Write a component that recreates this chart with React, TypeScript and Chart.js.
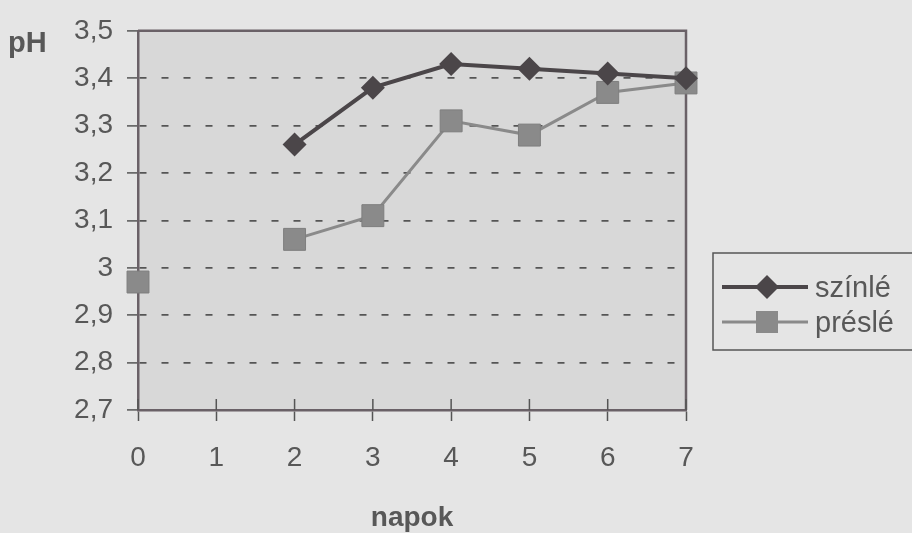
import React, { useEffect, useRef } from 'react';
import { Chart, registerables } from 'chart.js';

Chart.register(...registerables);

// ---- data ----
const days = [0, 1, 2, 3, 4, 5, 6, 7];
const szinle = [null, null, 3.26, 3.38, 3.43, 3.42, 3.41, 3.40];
const presle = [2.97, null, 3.06, 3.11, 3.31, 3.28, 3.37, 3.39];
const seriesNames = ['színlé', 'préslé'];
const yTicks = [2.7, 2.8, 2.9, 3.0, 3.1, 3.2, 3.3, 3.4, 3.5];
const xTitle = 'napok';
const yTitle = 'pH';

// ---- styles ----
const FONT = "'Liberation Sans', Arial, Helvetica, sans-serif";
const PAGE_BG = '#e5e5e5';
const PLOT_BG = '#d8d8d8';
const AXIS = '#6a6167';
const TEXT = '#585858';
const GRID = '#555555';
const C1 = '#4b4649';
const C2 = '#8a8a8a';

const fmt = (v: number) => String(Math.round(v * 10) / 10).replace('.', ',');

const decoPlugin = {
  id: 'deco',
  beforeDraw(chart: any) {
    const { ctx, chartArea: a } = chart;
    ctx.save();
    ctx.fillStyle = PLOT_BG;
    ctx.fillRect(a.left, a.top, a.right - a.left, a.bottom - a.top);
    ctx.restore();
  },
  beforeDatasetsDraw(chart: any) {
    const { ctx, chartArea: a } = chart;
    ctx.save();
    ctx.strokeStyle = AXIS;
    ctx.lineWidth = 2.5;
    ctx.beginPath();
    ctx.moveTo(a.left, a.top);
    ctx.lineTo(a.right, a.top);
    ctx.lineTo(a.right, a.bottom);
    ctx.stroke();
    // inner x tick marks
    const xs = chart.scales.x;
    ctx.lineWidth = 1.5;
    ctx.strokeStyle = GRID;
    ctx.beginPath();
    days.forEach((d) => {
      const px = xs.getPixelForValue(d);
      ctx.moveTo(px, a.bottom - 11);
      ctx.lineTo(px, a.bottom);
    });
    ctx.stroke();
    ctx.restore();
  },
  afterDraw(chart: any) {
    const { ctx } = chart;
    ctx.save();
    // y title
    ctx.fillStyle = TEXT;
    ctx.font = `bold 29px ${FONT}`;
    ctx.textBaseline = 'alphabetic';
    ctx.textAlign = 'left';
    ctx.fillText(yTitle, 8, 52);

    // legend
    const bx = 713, by = 253, bw = 240, bh = 97;
    ctx.strokeStyle = '#555';
    ctx.lineWidth = 1.5;
    ctx.strokeRect(bx, by, bw, bh);

    // row 1
    let y = 287;
    ctx.strokeStyle = C1;
    ctx.lineWidth = 4;
    ctx.beginPath();
    ctx.moveTo(722, y);
    ctx.lineTo(808, y);
    ctx.stroke();
    ctx.fillStyle = C1;
    ctx.beginPath();
    ctx.moveTo(767, y - 12);
    ctx.lineTo(779, y);
    ctx.lineTo(767, y + 12);
    ctx.lineTo(755, y);
    ctx.closePath();
    ctx.fill();
    ctx.fillStyle = TEXT;
    ctx.font = `29px ${FONT}`;
    ctx.fillText(seriesNames[0], 815, 297);

    // row 2
    y = 322;
    ctx.strokeStyle = C2;
    ctx.lineWidth = 3;
    ctx.beginPath();
    ctx.moveTo(722, y);
    ctx.lineTo(808, y);
    ctx.stroke();
    ctx.fillStyle = C2;
    ctx.fillRect(756, y - 11, 22, 22);
    ctx.fillStyle = TEXT;
    ctx.fillText(seriesNames[1], 815, 332);
    ctx.restore();
  },
};

export default function App() {
  const ref = useRef<HTMLCanvasElement | null>(null);

  useEffect(() => {
    const prevMargin = document.body.style.margin;
    document.body.style.margin = '0';
    const canvas = ref.current;
    if (!canvas) return;

    const chart = new Chart(canvas, {
      type: 'line',
      data: {
        datasets: [
          {
            label: seriesNames[0],
            data: days.map((d, i) => ({ x: d, y: szinle[i] })),
            borderColor: C1,
            backgroundColor: C1,
            borderWidth: 4,
            pointStyle: 'rectRot',
            pointRadius: 12,
            pointBorderWidth: 0,
            pointBackgroundColor: C1,
            spanGaps: false,
            clip: false,
            tension: 0,
          } as any,
          {
            label: seriesNames[1],
            data: days.map((d, i) => ({ x: d, y: presle[i] })),
            borderColor: C2,
            backgroundColor: C2,
            borderWidth: 3,
            pointStyle: 'rect',
            pointRadius: 15.5,
            pointBorderWidth: 1,
            pointBorderColor: '#7e7e7e',
            pointBackgroundColor: C2,
            spanGaps: false,
            clip: false,
            tension: 0,
          } as any,
        ],
      },
      options: {
        animation: false,
        responsive: false,
        devicePixelRatio: 1,
        layout: { padding: { top: 23, right: 226, left: 0, bottom: 0 } },
        plugins: {
          legend: { display: false },
          tooltip: { enabled: false },
        },
        scales: {
          x: {
            type: 'linear',
            min: 0,
            max: 7,
            afterBuildTicks: (s: any) => {
              s.ticks = days.map((v) => ({ value: v }));
            },
            afterFit: (s: any) => {
              s.height = 123;
            },
            ticks: {
              color: TEXT,
              font: { family: FONT, size: 28 },
              padding: 20,
              maxRotation: 0,
              callback: (v: any) => String(v),
            },
            grid: {
              display: true,
              drawOnChartArea: false,
              drawTicks: true,
              tickLength: 11,
              tickColor: GRID,
              tickWidth: 1.5,
            },
            border: { display: true, color: AXIS, width: 2.5 },
            title: {
              display: true,
              text: xTitle,
              color: TEXT,
              font: { family: FONT, size: 28, weight: 'bold' },
              padding: { top: 0, bottom: -2 },
            },
          },
          y: {
            type: 'linear',
            min: 2.7,
            max: 3.5,
            afterBuildTicks: (s: any) => {
              s.ticks = yTicks.map((v) => ({ value: v }));
            },
            afterFit: (s: any) => {
              s.width = 138;
            },
            ticks: {
              color: TEXT,
              font: { family: FONT, size: 28 },
              padding: 14,
              callback: (v: any) => fmt(Number(v)),
            },
            grid: {
              display: true,
              drawOnChartArea: true,
              drawTicks: true,
              tickLength: 11,
              lineWidth: 1.8,
              color: (c: any) => {
                const v = c.tick ? Math.round(c.tick.value * 10) / 10 : 0;
                return v === 2.7 || v === 3.5 ? 'rgba(0,0,0,0)' : GRID;
              },
              tickColor: GRID,
              tickWidth: 1.5,
            },
            border: { display: true, color: AXIS, width: 2.5, dash: [7, 15] },
          },
        },
      },
      plugins: [decoPlugin],
    } as any);

    return () => {
      chart.destroy();
      document.body.style.margin = prevMargin;
    };
  }, []);

  return (
    <div
      style={{
        position: 'fixed',
        left: 0,
        top: 0,
        width: 912,
        height: 533,
        background: PAGE_BG,
      }}
    >
      <canvas ref={ref} width={912} height={533} style={{ width: 912, height: 533, display: 'block' }} />
    </div>
  );
}
